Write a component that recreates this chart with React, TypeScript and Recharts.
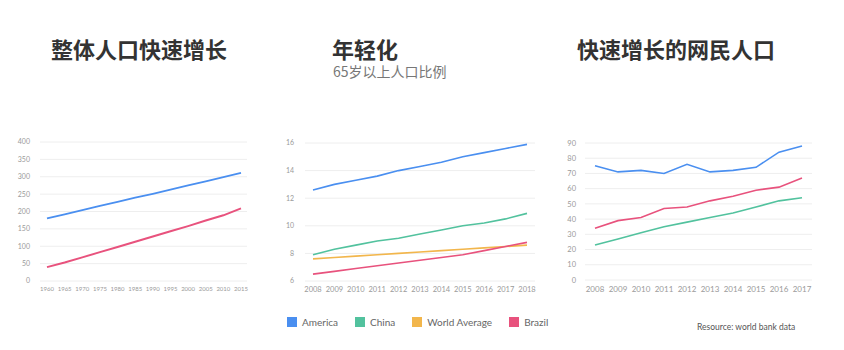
import React from 'react';
import { LineChart, Line, XAxis, YAxis, CartesianGrid } from 'recharts';

// ---------- data ----------
const popYears = ['1960', '1965', '1970', '1975', '1980', '1985', '1990', '1995', '2000', '2005', '2010', '2015'];
const popAmerica = [180, 192, 204, 216, 228, 240, 251, 263, 275, 287, 299, 311];
const popBrazil = [40, 53, 68, 83, 98, 113, 128, 143, 158, 174, 189, 209];
const popTicks = [0, 50, 100, 150, 200, 250, 300, 350, 400];

const agedYears = ['2008', '2009', '2010', '2011', '2012', '2013', '2014', '2015', '2016', '2017', '2018'];
const agedAmerica = [12.6, 13.0, 13.3, 13.6, 14.0, 14.3, 14.6, 15.0, 15.3, 15.6, 15.9];
const agedChina = [7.9, 8.3, 8.6, 8.9, 9.1, 9.4, 9.7, 10.0, 10.2, 10.5, 10.9];
const agedWorld = [7.6, 7.7, 7.8, 7.9, 8.0, 8.1, 8.2, 8.3, 8.4, 8.5, 8.6];
const agedBrazil = [6.5, 6.7, 6.9, 7.1, 7.3, 7.5, 7.7, 7.9, 8.2, 8.5, 8.8];
const agedTicks = [6, 8, 10, 12, 14, 16];

const netYears = ['2008', '2009', '2010', '2011', '2012', '2013', '2014', '2015', '2016', '2017'];
const netAmerica = [75, 71, 72, 70, 76, 71, 72, 74, 84, 88];
const netChina = [23, 27, 31, 35, 38, 41, 44, 48, 52, 54];
const netBrazil = [34, 39, 41, 47, 48, 52, 55, 59, 61, 67];
const netTicks = [0, 10, 20, 30, 40, 50, 60, 70, 80, 90];

const legendNames = ['America', 'China', 'World Average', 'Brazil'];
const legendColors = ['#4a8ff0', '#52c29e', '#f2b64c', '#e8527d'];

const titles = ['整体人口快速增长', '年轻化', '快速增长的网民人口'];
const subtitle = '65岁以上人口比例';
const sourceNote = 'Resource: world bank data';

// ---------- tables ----------
const popData = popYears.map((y, i) => ({ year: y, America: popAmerica[i], Brazil: popBrazil[i] }));
const agedData = agedYears.map((y, i) => ({
  year: y,
  America: agedAmerica[i],
  China: agedChina[i],
  World: agedWorld[i],
  Brazil: agedBrazil[i],
}));
const netData = netYears.map((y, i) => ({ year: y, America: netAmerica[i], China: netChina[i], Brazil: netBrazil[i] }));

const BLUE = legendColors[0];
const GREEN = legendColors[1];
const ORANGE = legendColors[2];
const PINK = legendColors[3];

const tickFont = { fontFamily: 'Lato, sans-serif', fill: '#9a9a9a' };

const titleStyle: React.CSSProperties = {
  position: 'absolute',
  top: 36,
  fontFamily: '"Noto Sans CJK SC", sans-serif',
  fontWeight: 700,
  fontSize: 22,
  lineHeight: '24px',
  color: '#333',
  whiteSpace: 'nowrap',
};

export default function App() {
  return (
    <div style={{ position: 'fixed', left: 0, top: 0, width: 844, height: 350, background: '#fff', overflow: 'hidden' }}>
      <div style={{ ...titleStyle, left: 51 }}>{titles[0]}</div>
      <div style={{ ...titleStyle, left: 332 }}>{titles[1]}</div>
      <div
        style={{
          position: 'absolute',
          left: 333,
          top: 62,
          fontFamily: '"Noto Sans CJK SC", sans-serif',
          fontSize: 14,
          lineHeight: '18px',
          color: '#777',
          whiteSpace: 'nowrap',
        }}
      >
        {subtitle}
      </div>
      <div style={{ ...titleStyle, left: 577 }}>{titles[2]}</div>

      {/* Left chart */}
      <div style={{ position: 'absolute', left: 0, top: 130 }}>
        <LineChart width={260} height={170} data={popData} margin={{ top: 12, right: 13, bottom: 4, left: 0 }}>
          <CartesianGrid vertical={false} stroke="#eeeeee" />
          <XAxis
            dataKey="year"
            axisLine={false}
            tickLine={false}
            tickSize={4}
            tickMargin={2}
            height={15}
            interval={0}
            padding={{ left: 7, right: 6 }}
            tick={{ ...tickFont, fontSize: 6 }}
          />
          <YAxis
            width={40}
            domain={[0, 400]}
            ticks={popTicks}
            axisLine={false}
            tickLine={false}
            tickSize={0}
            tickMargin={10}
            interval={0}
            tick={{ ...tickFont, fontSize: 7 }}
          />
          <Line dataKey="America" stroke={BLUE} strokeWidth={1.8} dot={false} isAnimationActive={false} />
          <Line dataKey="Brazil" stroke={PINK} strokeWidth={2} dot={false} isAnimationActive={false} />
        </LineChart>
      </div>

      {/* Middle chart */}
      <div style={{ position: 'absolute', left: 270, top: 130 }}>
        <LineChart width={280} height={170} data={agedData} margin={{ top: 13, right: 15, bottom: 4, left: 0 }}>
          <CartesianGrid vertical={false} stroke="#eeeeee" />
          <XAxis
            dataKey="year"
            axisLine={false}
            tickLine={false}
            tickSize={4}
            tickMargin={2}
            height={15}
            interval={0}
            padding={{ left: 8, right: 8 }}
            tick={{ ...tickFont, fontSize: 7.5 }}
          />
          <YAxis
            width={35}
            domain={[6, 16]}
            ticks={agedTicks}
            axisLine={false}
            tickLine={false}
            tickSize={0}
            tickMargin={11}
            interval={0}
            tick={{ ...tickFont, fontSize: 7 }}
          />
          <Line dataKey="America" stroke={BLUE} strokeWidth={1.6} dot={false} isAnimationActive={false} />
          <Line dataKey="China" stroke={GREEN} strokeWidth={1.6} dot={false} isAnimationActive={false} />
          <Line dataKey="World" stroke={ORANGE} strokeWidth={1.6} dot={false} isAnimationActive={false} />
          <Line dataKey="Brazil" stroke={PINK} strokeWidth={1.6} dot={false} isAnimationActive={false} />
        </LineChart>
      </div>

      {/* Right chart */}
      <div style={{ position: 'absolute', left: 555, top: 130 }}>
        <LineChart width={270} height={170} data={netData} margin={{ top: 13, right: 13, bottom: 5, left: 0 }}>
          <CartesianGrid vertical={false} stroke="#eeeeee" />
          <XAxis
            dataKey="year"
            axisLine={false}
            tickLine={false}
            tickSize={4}
            tickMargin={2}
            height={15}
            interval={0}
            padding={{ left: 10, right: 10 }}
            tick={{ ...tickFont, fontSize: 8 }}
          />
          <YAxis
            width={30}
            domain={[0, 90]}
            ticks={netTicks}
            axisLine={false}
            tickLine={false}
            tickSize={0}
            tickMargin={9}
            interval={0}
            tick={{ ...tickFont, fontSize: 7.5 }}
          />
          <Line dataKey="America" stroke={BLUE} strokeWidth={1.6} dot={false} isAnimationActive={false} />
          <Line dataKey="Brazil" stroke={PINK} strokeWidth={1.6} dot={false} isAnimationActive={false} />
          <Line dataKey="China" stroke={GREEN} strokeWidth={1.6} dot={false} isAnimationActive={false} />
        </LineChart>
      </div>

      {/* Legend */}
      <div
        style={{
          position: 'absolute',
          left: 287,
          top: 316,
          display: 'flex',
          alignItems: 'center',
          fontFamily: 'Lato, sans-serif',
          fontSize: 10,
          color: '#666',
          whiteSpace: 'nowrap',
        }}
      >
        {legendNames.map((n, i) => (
          <div key={n} style={{ display: 'flex', alignItems: 'center', marginRight: 17 }}>
            <span style={{ display: 'inline-block', width: 10, height: 10, background: legendColors[i], marginRight: 5 }} />
            <span>{n}</span>
          </div>
        ))}
      </div>

      <div
        style={{
          position: 'absolute',
          left: 697,
          top: 322,
          fontFamily: 'Lato, sans-serif',
          fontSize: 8.5,
          color: '#555',
          whiteSpace: 'nowrap',
        }}
      >
        {sourceNote}
      </div>
    </div>
  );
}
